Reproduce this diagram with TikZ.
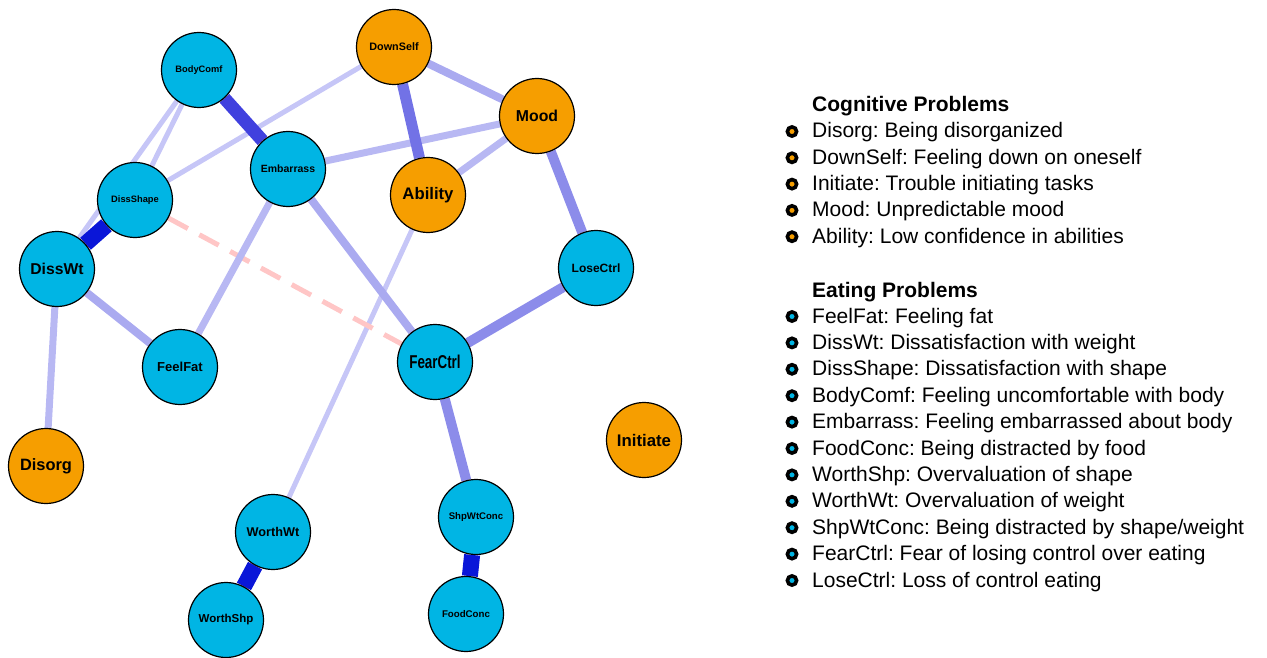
\documentclass[tikz,border=0pt]{standalone}
\usepackage{fontspec}
\setmainfont{Liberation Sans}
\usetikzlibrary{backgrounds}
\newcommand\fsz[1]{\fontsize{#1}{#1}\selectfont}
\definecolor{cyanfill}{RGB}{0,181,228}
\definecolor{orangefill}{RGB}{246,158,0}
\definecolor{eA}{RGB}{10,22,216}
\definecolor{eB}{RGB}{64,64,222}
\definecolor{eC}{RGB}{114,114,230}
\definecolor{eD}{RGB}{140,140,234}
\definecolor{eE}{RGB}{170,170,240}
\definecolor{eF}{RGB}{184,184,243}
\definecolor{eG}{RGB}{198,198,247}
\definecolor{ePink}{RGB}{255,198,198}
\begin{document}
\frenchspacing
\begin{tikzpicture}[x=1pt,y=-1pt,
  vtx/.style={circle,draw=black,line width=1.2pt,minimum size=75pt,inner sep=0pt},
  eat/.style={vtx,fill=cyanfill},
  cog/.style={vtx,fill=orangefill},
  lbl/.style={font=\fsz{#1}\bfseries},
  con/.style={line cap=butt},
  sA/.style={con,draw=eA,line width=16pt},
  sB/.style={con,draw=eB,line width=13pt},
  sC/.style={con,draw=eC,line width=11pt},
  sD/.style={con,draw=eD,line width=10pt},
  sE/.style={con,draw=eE,line width=8pt},
  sF/.style={con,draw=eF,line width=7pt},
  sG/.style={con,draw=eG,line width=5pt},
  neg/.style={con,draw=ePink,line width=5pt,dash pattern=on 22pt off 13pt},
  bul/.style={circle,draw=black,line width=3.6pt,minimum size=9.2pt,inner sep=0pt},
  head/.style={anchor=base west,font=\fsz{21}\bfseries,inner sep=0pt},
  item/.style={anchor=base west,font=\fsz{21},inner sep=0pt}
]
\useasboundingbox (0,0) rectangle (1267,658);

% nodes
\node[eat,lbl=9.3] (BodyComf) at (199,70) {BodyComf};
\node[cog,lbl=10.8] (DownSelf) at (394,47) {DownSelf};
\node[cog,lbl=15.8] (Mood) at (537,116) {Mood};
\node[eat,lbl=10.5] (Embarrass) at (288,169) {Embarrass};
\node[cog,lbl=16.7] (Ability) at (428,195) {Ability};
\node[eat,lbl=9.3] (DissShape) at (135,200) {DissShape};
\node[eat,lbl=15.7] (DissWt) at (57,269) {DissWt};
\node[eat,lbl=12] (LoseCtrl) at (596,268) {LoseCtrl};
\node[eat,lbl=18.6] (FearCtrl) at (435,362) {\scalebox{0.72}[1]{FearCtrl}};
\node[eat,lbl=13] (FeelFat) at (180,367) {FeelFat};
\node[cog,lbl=16.8] (Initiate) at (644,440) {Initiate};
\node[cog,lbl=16.4] (Disorg) at (46,466) {Disorg};
\node[eat,lbl=9.6] (ShpWtConc) at (476,517) {ShpWtConc};
\node[eat,lbl=12.7] (WorthWt) at (273,532) {WorthWt};
\node[eat,lbl=11.5] (WorthShp) at (226,620) {WorthShp};
\node[eat,lbl=9.7] (FoodConc) at (466,614) {FoodConc};

\begin{pgfonlayer}{background}
\draw[sG] (BodyComf) -- (DissShape);
\draw[sG] (BodyComf) -- (DissWt);
\draw[sG] (DownSelf) -- (DissShape);
\draw[sG] (Ability) -- (WorthWt);
\draw[neg] (DissShape) -- (FearCtrl);
\draw[sF] (Embarrass) -- (FeelFat);
\draw[sF] (DissWt) -- (Disorg);
\draw[sF] (Mood) -- (Ability);
\draw[sF] (Mood) -- (Embarrass);
\draw[sE] (Embarrass) -- (FearCtrl);
\draw[sE] (DownSelf) -- (Mood);
\draw[sE] (DissWt) -- (FeelFat);
\draw[sD] (Mood) -- (LoseCtrl);
\draw[sD] (LoseCtrl) -- (FearCtrl);
\draw[sD] (FearCtrl) -- (ShpWtConc);
\draw[sC] (DownSelf) -- (Ability);
\draw[sB] (BodyComf) -- (Embarrass);
\draw[sA] (DissShape) -- (DissWt);
\draw[sA] (WorthWt) -- (WorthShp);
\draw[sA] (ShpWtConc) -- (FoodConc);
\end{pgfonlayer}

% legend
\node[head] (cogh) at (812,112) {Cognitive Problems};
\foreach \t [count=\i] in {Disorg: Being disorganized, DownSelf: Feeling down on oneself, Initiate: Trouble initiating tasks, Mood: Unpredictable mood, Ability: Low confidence in abilities}{
  \node[item] (cogt\i) at (812,{138+26.3*(\i-1)}) {\t};
  \node[bul,fill=orangefill] (cogb\i) at (792,{131.5+26.3*(\i-1)}) {};
}
\node[head] (eath) at (812,297) {Eating Problems};
\foreach \t [count=\i] in {FeelFat: Feeling fat, DissWt: Dissatisfaction with weight, DissShape: Dissatisfaction with shape, BodyComf: Feeling uncomfortable with body, Embarrass: Feeling embarrassed about body, FoodConc: Being distracted by food, WorthShp: Overvaluation of shape, WorthWt: Overvaluation of weight, ShpWtConc: Being distracted by shape/weight, FearCtrl: Fear of losing control over eating, LoseCtrl: Loss of control eating}{
  \node[item] (eatt\i) at (812,{323+26.4*(\i-1)}) {\t};
  \node[bul,fill=cyanfill] (eatb\i) at (792,{316.5+26.4*(\i-1)}) {};
}
\end{tikzpicture}
\end{document}
